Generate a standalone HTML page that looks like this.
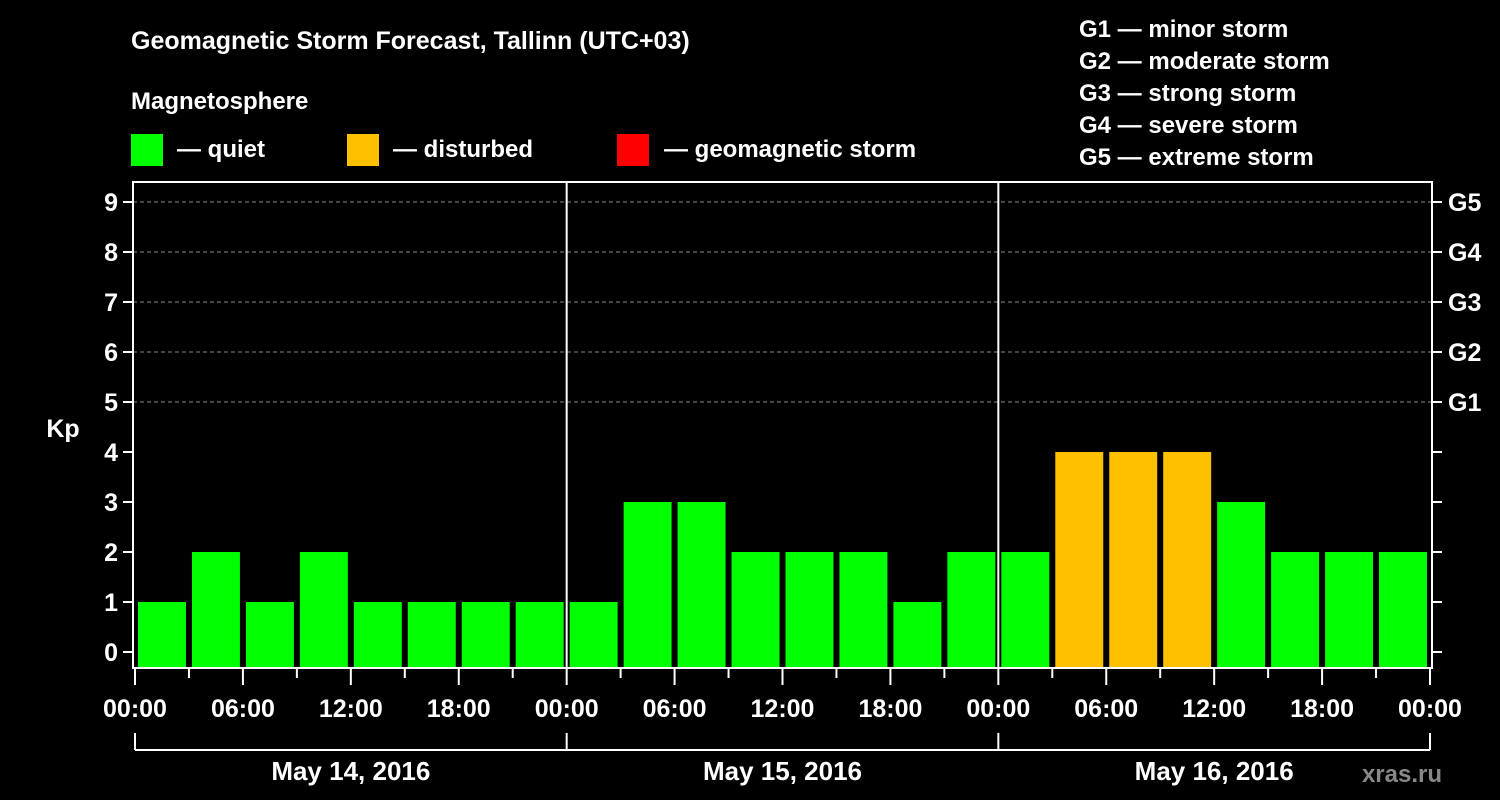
<!DOCTYPE html>
<html><head><meta charset="utf-8"><style>
html,body{margin:0;padding:0;background:#000;}
svg{display:block;font-family:"Liberation Sans",Arial,sans-serif;font-weight:bold;}
</style></head><body>
<svg id="chart" width="1500" height="800" viewBox="0 0 1500 800">
<rect width="1500" height="800" fill="#000"/>
<text x="131" y="49" fill="#fff" font-size="25">Geomagnetic Storm Forecast, Tallinn (UTC+03)</text>
<text x="131" y="109" fill="#fff" font-size="24">Magnetosphere</text>
<g><rect x="131" y="134" width="32" height="32" fill="#00ff00"/><text x="177" y="157" fill="#fff" font-size="24">— quiet</text></g>
<g><rect x="347" y="134" width="32" height="32" fill="#ffc000"/><text x="393" y="157" fill="#fff" font-size="24">— disturbed</text></g>
<g><rect x="617" y="134" width="32" height="32" fill="#ff0000"/><text x="664" y="157" fill="#fff" font-size="24">— geomagnetic storm</text></g>
<g fill="#fff" font-size="24">
<text x="1079" y="37">G1 — minor storm</text>
<text x="1079" y="69">G2 — moderate storm</text>
<text x="1079" y="101">G3 — strong storm</text>
<text x="1079" y="133">G4 — severe storm</text>
<text x="1079" y="165">G5 — extreme storm</text>
</g>
<text x="63" y="437" fill="#fff" font-size="25" text-anchor="middle">Kp</text>
<text x="1442" y="782" fill="#888" font-size="24" text-anchor="end">xras.ru</text>
<g id="plot"></g>
</svg>
<script>
const kpValues=[1,2,1,2,1,1,1,1, 1,3,3,2,2,2,1,2, 2,4,4,4,3,2,2,2];
const yTicks=[0,1,2,3,4,5,6,7,8,9];
const gLabels=["G1","G2","G3","G4","G5"];
const hourLabels=["00:00","06:00","12:00","18:00","00:00","06:00","12:00","18:00","00:00","06:00","12:00","18:00","00:00"];
const dayLabels=["May 14, 2016","May 15, 2016","May 16, 2016"];

const NS="http://www.w3.org/2000/svg";
const g=document.getElementById('plot');
const L=133,R=1432,T=182,B=668,X0=135,X1=1430;
const x=h=>X0+(X1-X0)*h/72;
const y=v=>652-50*v;
function mk(tag,attrs,parent){const e=document.createElementNS(NS,tag);for(const k in attrs)e.setAttribute(k,attrs[k]);(parent||g).appendChild(e);return e;}
// gridlines
yTicks.forEach(v=>{if(v>=5){const l=mk('line',{x1:L,x2:R,y1:y(v),y2:y(v),stroke:'#888','stroke-dasharray':'4,3','stroke-width':1});

}});
// bars
kpValues.forEach((v,i)=>{const c=v>=5?'#ff0000':(v>=4?'#ffc000':'#00ff00');
const r=mk('rect',{x:x(i*3)+3,width:x(3)-x(0)-6,y:y(v),height:B-y(v),fill:c});

});
// day separators
[1,2].forEach(d=>{const l=mk('line',{x1:x(d*24),x2:x(d*24),y1:T,y2:B,stroke:'#fff','stroke-width':2});

});
// frame
const f=mk('rect',{x:L,y:T,width:R-L,height:B-T,fill:'none',stroke:'#fff','stroke-width':2});


// y ticks & labels
yTicks.forEach(v=>{mk('line',{x1:L-10,x2:L,y1:y(v),y2:y(v),stroke:'#fff','stroke-width':2});
mk('line',{x1:R,x2:R+10,y1:y(v),y2:y(v),stroke:'#fff','stroke-width':2});
const t=mk('text',{x:L-15,y:y(v)+9,fill:'#fff','font-size':25,'text-anchor':'end'});t.textContent=v;

});
gLabels.forEach((s,i)=>{const t=mk('text',{x:R+16,y:y(5+i)+9,fill:'#fff','font-size':25});t.textContent=s;

});
// x ticks
for(let h=0;h<=72;h+=3){const major=h%6===0;mk('line',{x1:x(h),x2:x(h),y1:B,y2:major?B+17:B+10,stroke:'#fff','stroke-width':2});}
hourLabels.forEach((s,i)=>{const t=mk('text',{x:x(i*6),y:717,fill:'#fff','font-size':25,'text-anchor':'middle'});t.textContent=s;

});
// day brackets
mk('line',{x1:x(0),x2:x(72),y1:750,y2:750,stroke:'#fff','stroke-width':2});
[0,1,2,3].forEach(d=>mk('line',{x1:x(d*24),x2:x(d*24),y1:733,y2:750,stroke:'#fff','stroke-width':2}));
dayLabels.forEach((s,i)=>{const t=mk('text',{x:x(i*24+12),y:780,fill:'#fff','font-size':26,'text-anchor':'middle'});t.textContent=s;

});
</script>
</body></html>
